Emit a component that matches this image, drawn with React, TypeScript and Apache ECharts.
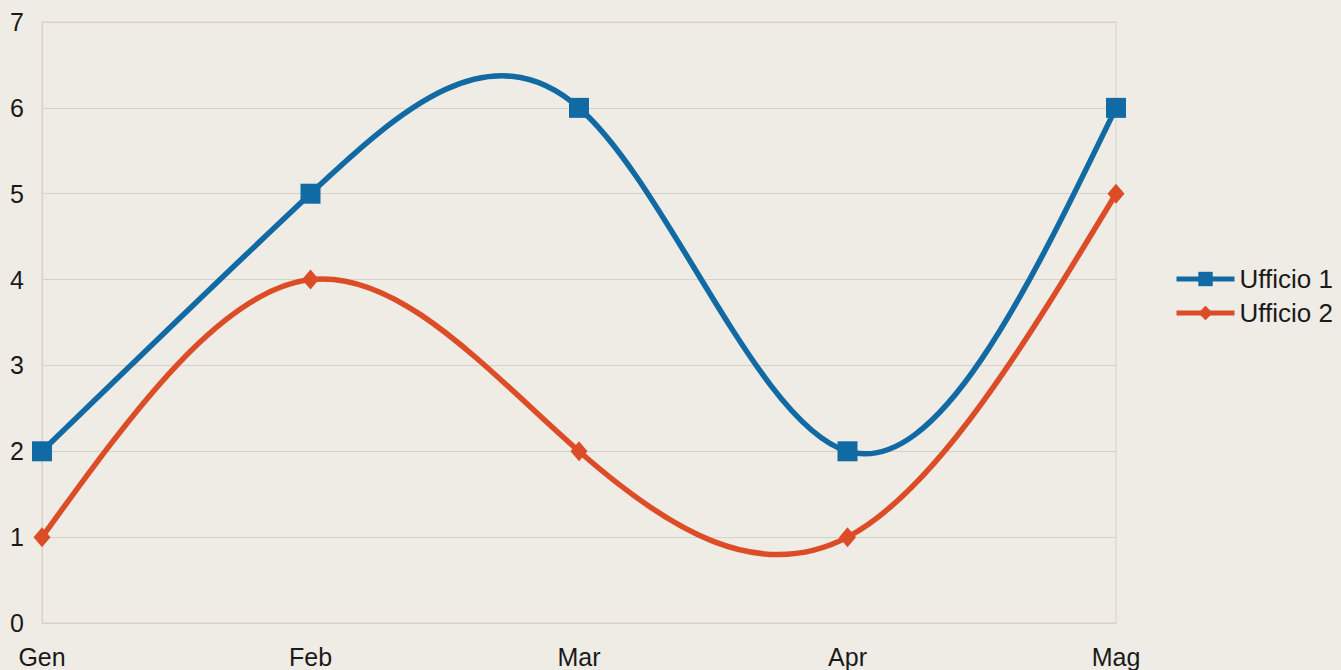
import React, { useEffect, useRef } from "react";
import * as echarts from "echarts";

const categories = ["Gen", "Feb", "Mar", "Apr", "Mag"];
const office1 = [2, 5, 6, 2, 6];
const office2 = [1, 4, 2, 1, 5];
const yTicks = [0, 1, 2, 3, 4, 5, 6, 7];

const BLUE = "#116aa3";
const RED = "#dc4c27";

function naturalSplinePath(pts: number[][]): string {
  const n = pts.length;
  if (n < 2) return "";
  const ys = pts.map((p) => p[1]);
  const M = new Array(n).fill(0);
  if (n > 2) {
    const m = n - 2;
    const a: number[] = [], b: number[] = [], c: number[] = [], d: number[] = [];
    for (let i = 1; i <= m; i++) {
      a.push(1); b.push(4); c.push(1);
      d.push(6 * (ys[i + 1] - 2 * ys[i] + ys[i - 1]));
    }
    for (let i = 1; i < m; i++) {
      const w = a[i] / b[i - 1];
      b[i] -= w * c[i - 1];
      d[i] -= w * d[i - 1];
    }
    const sol = new Array(m).fill(0);
    sol[m - 1] = d[m - 1] / b[m - 1];
    for (let i = m - 2; i >= 0; i--) sol[i] = (d[i] - c[i] * sol[i + 1]) / b[i];
    for (let i = 0; i < m; i++) M[i + 1] = sol[i];
  }
  const D: number[] = [];
  for (let i = 0; i < n; i++) {
    if (i < n - 1) D.push(ys[i + 1] - ys[i] - (2 * M[i] + M[i + 1]) / 6);
    else D.push(ys[i] - ys[i - 1] + (M[i - 1] + 2 * M[i]) / 6);
  }
  let s = `M${pts[0][0]},${pts[0][1]}`;
  for (let i = 0; i < n - 1; i++) {
    const dx = pts[i + 1][0] - pts[i][0];
    const c1x = pts[i][0] + dx / 3;
    const c1y = pts[i][1] + D[i] / 3;
    const c2x = pts[i + 1][0] - dx / 3;
    const c2y = pts[i + 1][1] - D[i + 1] / 3;
    s += ` C${c1x},${c1y} ${c2x},${c2y} ${pts[i + 1][0]},${pts[i + 1][1]}`;
  }
  return s;
}

function splineSeries(values: number[], color: string) {
  return {
    type: "custom",
    silent: true,
    z: 2,
    data: [[0, values[0]]],
    encode: { x: 0, y: 1 },
    renderItem: (params: any, api: any) => {
      const pts = values.map((v, i) => api.coord([i, v]));
      return {
        type: "path",
        shape: { pathData: naturalSplinePath(pts) },
        style: { fill: "none", stroke: color, lineWidth: 5.5 },
      };
    },
  };
}

export default function App() {
  const ref = useRef<HTMLDivElement>(null);
  useEffect(() => {
    if (!ref.current) return;
    const chart = echarts.init(ref.current, undefined, { renderer: "svg" });
    const labelFont = { color: "#1a1a1a", fontSize: 25, fontFamily: "Liberation Sans, Arial, sans-serif" };
    chart.setOption({
      animation: false,
      backgroundColor: "#efece5",
      grid: {
        left: 42,
        right: 225,
        top: 22,
        bottom: 47,
        show: true,
        borderColor: "#d6d2ca",
        borderWidth: 1,
        containLabel: false,
      },
      legend: {
        orient: "vertical",
        left: 1174,
        top: 266,
        padding: 0,
        itemWidth: 58,
        itemHeight: 18,
        itemGap: 8,
        textStyle: { ...labelFont, fontSize: 26, padding: [0, 0, 0, 0] },
        lineStyle: { width: 5, opacity: 1 },
        data: ["Ufficio 1", "Ufficio 2"],
      },
      xAxis: {
        type: "category",
        data: categories,
        boundaryGap: false,
        axisLine: { show: true, lineStyle: { color: "#d6d2ca" } },
        axisTick: { show: false },
        splitLine: { show: false },
        axisLabel: { ...labelFont, margin: 21 },
      },
      yAxis: {
        type: "value",
        min: yTicks[0],
        max: yTicks[yTicks.length - 1],
        interval: 1,
        axisLine: { show: true, lineStyle: { color: "#d6d2ca" } },
        axisTick: { show: false },
        splitLine: { show: true, lineStyle: { color: "#d6d2ca", width: 1 } },
        axisLabel: { ...labelFont, margin: 18 },
      },
      series: [
        splineSeries(office1, BLUE),
        splineSeries(office2, RED),
        {
          name: "Ufficio 1",
          type: "line",
          data: office1,
          symbol: "rect",
          symbolSize: 20,
          showSymbol: true,
          z: 3,
          itemStyle: { color: BLUE },
          lineStyle: { color: BLUE, width: 5, opacity: 0 },
        },
        {
          name: "Ufficio 2",
          type: "line",
          data: office2,
          symbol: "diamond",
          symbolSize: [17, 20],
          showSymbol: true,
          z: 3,
          itemStyle: { color: RED },
          lineStyle: { color: RED, width: 5, opacity: 0 },
        },
      ],
    });
    return () => chart.dispose();
  }, []);
  return (
    <div
      ref={ref}
      style={{ position: "fixed", left: 0, top: 0, width: 1341, height: 670 }}
    />
  );
}
